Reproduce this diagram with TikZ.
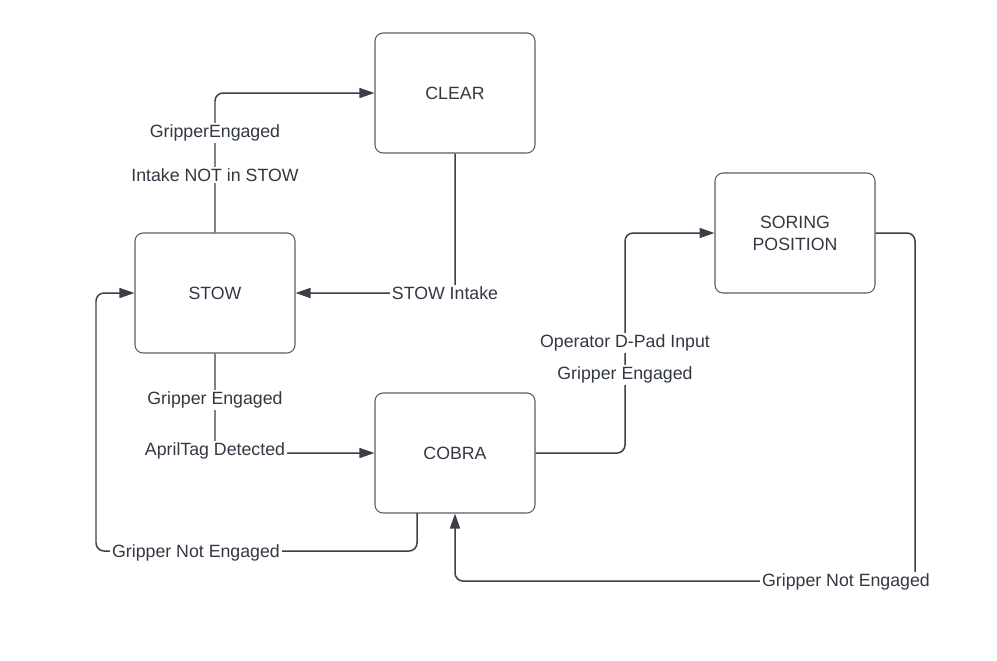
\documentclass[tikz,border=0pt]{standalone}
\usepackage{fontspec}
\setmainfont{Liberation Sans}
\usetikzlibrary{arrows.meta,calc}
\definecolor{linecol}{RGB}{58,64,74}
\definecolor{boxcol}{RGB}{90,92,96}
\definecolor{txtcol}{RGB}{50,56,66}
\begin{document}
\begin{tikzpicture}[x=0.02cm,y=-0.02cm,
  state/.style={draw=boxcol,line width=0.6pt,rounded corners=0.16cm,minimum width=3.2cm,minimum height=2.4cm,inner sep=0pt,align=center,text=txtcol,font=\fontsize{10.1}{12.4}\selectfont},
  conn/.style={draw=linecol,line width=0.85pt,rounded corners=0.16cm,-{Triangle[length=0.3cm,width=0.2cm]}},
  lab/.style={fill=white,inner sep=1pt,text=txtcol,font=\fontsize{10.1}{12}\selectfont}]
\useasboundingbox (0,0) rectangle (997,660);
\node[state] (clear) at (455,93) {CLEAR};
\node[state] (stow) at (215,293) {STOW};
\node[state] (soring) at (795,233) {SORING\\POSITION};
\node[state] (cobra) at (455,453) {COBRA};
\coordinate (cobraout) at (417,513);
% connectors
\draw[conn] (stow.north) |- (clear.west);
\draw[conn] (clear.south) |- (stow.east);
\draw[conn] (stow.south) |- (cobra.west);
\draw[conn] (cobra.east) -| (625,360) |- (soring.west);
\draw[conn] (soring.east) -| (915,581) -| (cobra.south);
\draw[conn] (cobraout) |- (96,551) |- (stow.west);
% labels
\node[lab] (l1) at (215,133) {GripperEngaged};
\node[lab] (l2) at (215,175) {Intake NOT in STOW};
\node[lab] (l3) at (445,293) {STOW Intake};
\node[lab] (l4) at (215,400) {Gripper Engaged};
\node[lab] (l5) at (215,451) {AprilTag Detected};
\node[lab] (l6) at (625,343) {Operator D-Pad Input};
\node[lab] (l7) at (625,375) {Gripper Engaged};
\node[lab] (l8) at (846,582) {Gripper Not Engaged};
\node[lab] (l9) at (196,553) {Gripper Not Engaged};
\end{tikzpicture}
\end{document}
